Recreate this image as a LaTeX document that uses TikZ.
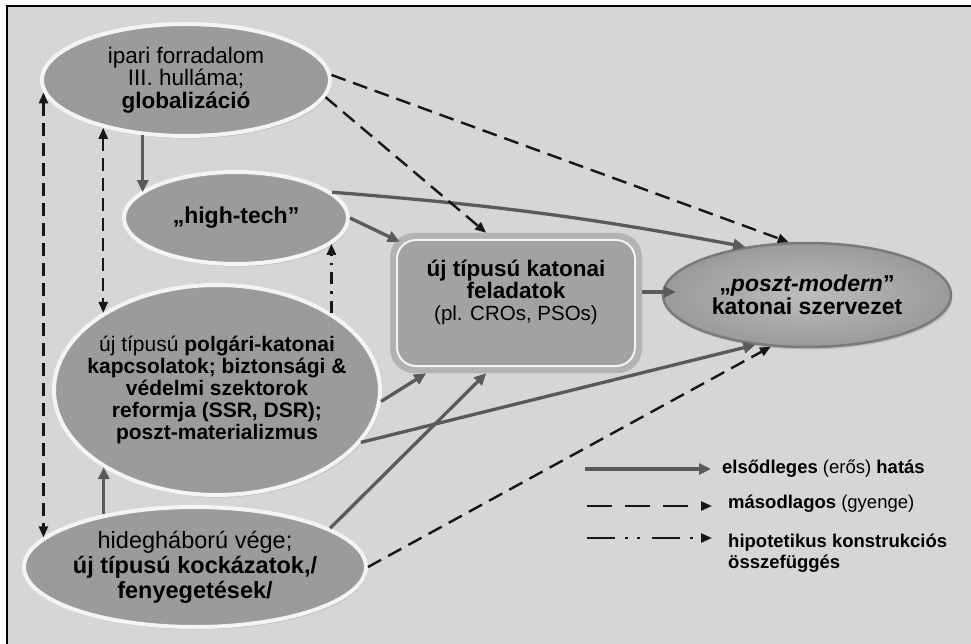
\documentclass[tikz,border=0pt]{standalone}
\usepackage{fontspec}
\setmainfont{Liberation Sans}
\usetikzlibrary{shapes.geometric,arrows.meta,shadows}
\definecolor{bgc}{HTML}{D6D6D6}
\definecolor{ovalc}{HTML}{9B9B9B}
\definecolor{ringc}{HTML}{F4F4F4}
\definecolor{boxring}{HTML}{B3B3B3}
\definecolor{boxfill}{HTML}{A2A2A2}
\definecolor{primc}{HTML}{5A5A5A}
\definecolor{secc}{HTML}{161616}
\definecolor{goalin}{HTML}{BDBDBD}
\definecolor{goalout}{HTML}{9A9A9A}
\definecolor{goaledge}{HTML}{7A7A7A}
\begin{document}
\begin{tikzpicture}[x=1pt,y=-1pt,
  oval/.style={ellipse, fill=ovalc, draw=ringc, line width=4pt, inner xsep=-25pt, inner ysep=-6pt,
    align=center, text=black,
    drop shadow={shadow xshift=1.5pt,shadow yshift=-2.5pt,opacity=0.3}},
  taskbox/.style={rectangle, rounded corners=24pt, fill=boxring, minimum width=252pt,
    minimum height=140pt, inner sep=0pt,
    path picture={\draw[draw=ringc,line width=2pt,fill=boxfill,rounded corners=19pt]
      ([shift={(7pt,-7pt)}]path picture bounding box.north west) rectangle
      ([shift={(-7pt,7pt)}]path picture bounding box.south east);}},
  goal/.style={ellipse, inner color=goalin, outer color=goalout, draw=goaledge, line width=2.5pt,
    minimum width=288pt, minimum height=104pt, inner sep=-6pt, align=center,
    drop shadow={shadow xshift=1.5pt,shadow yshift=-2.5pt,opacity=0.3}},
  prim/.style={draw=primc, line width=3.3pt, -{Triangle[length=12pt,width=11pt]}},
  sec/.style={draw=secc, line width=2.4pt, dash pattern=on 15pt off 8pt,
    -{Triangle[length=11pt,width=9pt]}},
  secboth/.style={sec, {Triangle[length=11pt,width=9pt]}-{Triangle[length=11pt,width=9pt]}},
  hyp/.style={draw=secc, line width=2.4pt, dash pattern=on 12pt off 7pt on 2.5pt off 7pt,
    -{Triangle[length=11pt,width=9pt]}},
  legtext/.style={inner sep=0pt, font=\fontsize{18.5}{21.5}\selectfont, align=left}
]
\useasboundingbox (0,0) rectangle (971,644);
\fill[white] (0,0) rectangle (971,644);
\fill[bgc] (7,6) rectangle (971,644);
\draw[black, line width=1.5pt] (7,644) -- (7,6) -- (971,6);

% nodes
\node[oval, minimum width=288pt, minimum height=112pt, font=\fontsize{22.5}{22.5}\selectfont]
  (glob) at (186,80) {ipari forradalom\\III. hulláma;\\\textbf{globalizáció}};
\node[oval, minimum width=224pt, minimum height=92pt, font=\fontsize{23}{23}\selectfont]
  (ht) at (236,218) {\textbf{„high-tech”}};
\node[oval, minimum width=326pt, minimum height=210pt, font=\fontsize{21}{22.2}\selectfont]
  (big) at (217,390) {új típusú \textbf{polgári-katonai}\\\textbf{kapcsolatok; biztonsági \&}\\
  \textbf{védelmi szektorok}\\\textbf{reformja (SSR, DSR);}\\\textbf{poszt-materializmus}};
\node[oval, minimum width=342pt, minimum height=120pt, font=\fontsize{23.5}{25}\selectfont]
  (hid) at (195,567) {hidegháború vége;\\\textbf{új típusú kockázatok,/}\\\textbf{fenyegetések/}};
\node[taskbox] (box) at (516,303) {};
\node[align=center, inner sep=0pt, font=\fontsize{22.5}{22}\selectfont]
  (boxt) at (516,292) {\textbf{új típusú katonai}\\\textbf{feladatok}\\
  {\fontsize{20.5}{22}\selectfont (pl. CROs, PSOs)}};
\node[goal, font=\fontsize{23}{22.5}\selectfont] (poszt) at (807,295)
  {\textbf{„\textit{poszt-modern}”}\\\textbf{katonai szervezet}};

% primary (solid) influences
\draw[prim] (glob.232) -- (glob.232 |- ht.165);
\draw[prim] (ht.east) -- ([shift={(10,9)}]box.north west);
\draw[prim] (ht.15) to[bend left=3] (poszt.142);
\draw[prim] (big.-4) -- (box.218);
\draw[prim] (big.-20) -- (poszt.224);
\draw[prim] (hid.16) -- (box.247);
\draw[prim] (hid.150) -- (hid.150 |- big.214);
\draw[prim, shorten >=-14pt] (box.5) -- (box.5 -| poszt.west);

% secondary (dashed) influences
\draw[sec] (glob.-7) -- (box.113);
\draw[sec] (glob.2) -- (poszt.109);
\draw[sec] (hid.east) -- (poszt.235);
\draw[secboth, dash pattern=on 13pt off 7pt] (glob.210) -- (glob.210 |- big.146);
\draw[secboth, dash pattern=on 13pt off 7pt] (glob.185) -- (glob.185 |- hid.169);

% hypothetical
\draw[hyp] (big.34) -- (big.34 |- ht.-15);

% legend
\coordinate (l1a) at (585,469);
\coordinate (l1b) at (711,469);
\coordinate (l2a) at (587,506);
\coordinate (l2b) at (712,506);
\coordinate (l3a) at (587,538);
\coordinate (l3b) at (712,538);
\draw[prim, line width=3.8pt] (l1a) -- (l1b);
\draw[sec, dash pattern=on 25pt off 13pt] (l2a) -- (l2b);
\draw[hyp, dash pattern=on 28pt off 10pt on 3pt off 9pt on 3pt off 12pt] (l3a) -- (l3b);
\node[legtext, anchor=west] (lt1) at (722,469) {\textbf{elsődleges} (erős) \textbf{hatás}};
\node[legtext, anchor=west] (lt2) at (728,504) {\textbf{másodlagos} (gyenge)};
\node[legtext, anchor=west] (lt3) at (728,553) {\textbf{hipotetikus konstrukciós}\\\textbf{összefüggés}};
\end{tikzpicture}
\end{document}
